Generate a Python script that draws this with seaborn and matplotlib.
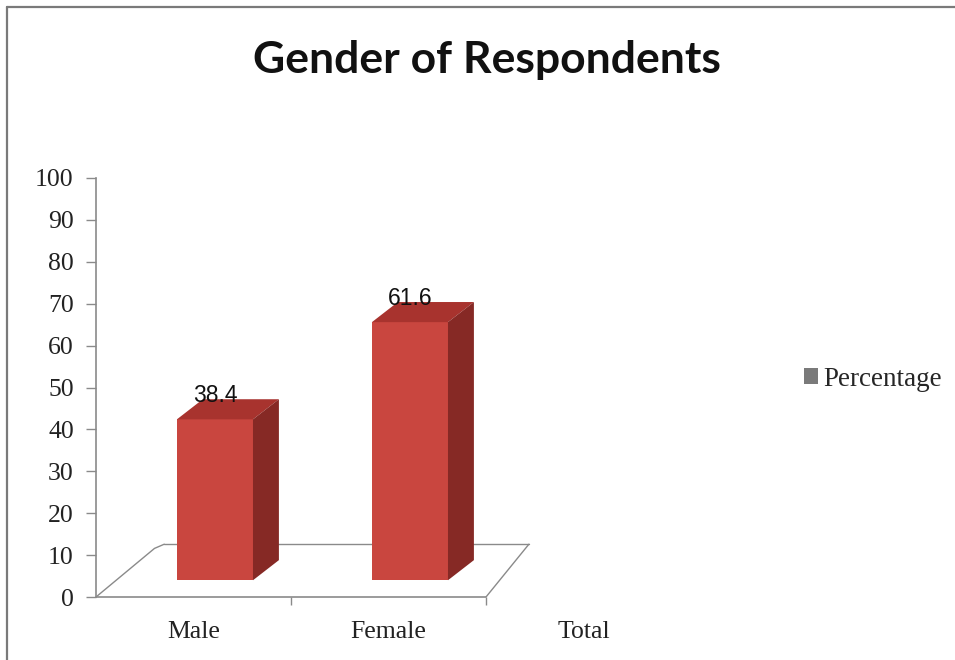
import matplotlib
matplotlib.use("Agg")
import matplotlib.pyplot as plt
from matplotlib.patches import Polygon, Patch
from matplotlib.lines import Line2D
import seaborn as sns
import pandas as pd
import numpy as np

# ---- data ----
categories = ["Male", "Female", "Total"]
bar_categories = ["Male", "Female"]
percentages = [38.4, 61.6]
yticks = [0, 10, 20, 30, 40, 50, 60, 70, 80, 90, 100]
title = "Gender of Respondents"
series_name = "Percentage"

df = pd.DataFrame({"Category": bar_categories, "Percentage": percentages})

sns.set_style("white")
plt.rcParams["font.family"] = ["Liberation Serif", "DejaVu Serif"]

W, H = 955, 660
fig = plt.figure(figsize=(W / 100, H / 100), dpi=100)
fig.patch.set_facecolor("white")

ax = fig.add_axes([96 / W, (H - 597) / H, 585 / W, (597 - 178) / H])
ax.set_facecolor("none")

front_c = "#C9463F"
side_c = "#862925"
top_c = "#A8332E"
grid_c = "#8a8a8a"

sns.barplot(data=df, x="Category", y="Percentage", order=categories,
            width=0.39, color=front_c, saturation=1, ax=ax, errorbar=None,
            linewidth=0)

ax.set_xlim(-0.5, 2.5)
ax.set_ylim(0, 100)

# pseudo-3D geometry (style)
shift_x = 0.11   # front faces shifted right (perspective)
base = 4.0       # front faces start slightly above the floor front edge
dx, dy = 0.133, 4.8  # depth offsets

# floor
floor_back = 12.6
ax.plot([-0.5, 1.5], [0, 0], color=grid_c, lw=1.2, zorder=1, clip_on=False)
ax.plot([-0.5, -0.2, -0.15], [0, floor_back - 1.0, floor_back], color=grid_c, lw=1.0, zorder=1)
ax.plot([-0.15, 1.72], [floor_back, floor_back], color=grid_c, lw=1.0, zorder=1)
ax.plot([1.5, 1.72], [0, floor_back], color=grid_c, lw=1.0, zorder=1)

for p in list(ax.patches):
    h = p.get_height()
    if not np.isfinite(h) or h == 0:
        continue
    x0 = p.get_x() + shift_x
    w = p.get_width()
    p.set_x(x0)
    p.set_y(base)
    p.set_zorder(3)
    top = base + h
    x1 = x0 + w
    ax.add_patch(Polygon([[x0, top], [x0 + dx, top + dy], [x1 + dx, top + dy], [x1, top]],
                         closed=True, facecolor=top_c, edgecolor="none", zorder=3))
    ax.add_patch(Polygon([[x1, base], [x1, top], [x1 + dx, top + dy], [x1 + dx, base + dy]],
                         closed=True, facecolor=side_c, edgecolor="none", zorder=3))
    ax.text(x0 + w / 2, top + dy + 0.8, f"{h:.1f}", ha="center", va="center",
            fontsize=16.5, family=["Liberation Sans", "DejaVu Sans"], color="#111111", zorder=5)

# axes styling
for s in ["top", "right", "bottom"]:
    ax.spines[s].set_visible(False)
ax.spines["left"].set_color(grid_c)
ax.spines["left"].set_linewidth(1.2)
ax.set_yticks(yticks)
ax.set_yticklabels([str(t) for t in yticks])
ax.tick_params(axis="y", direction="out", length=7, width=1, color=grid_c,
               pad=9, labelsize=18.5, labelcolor="#222222", left=True)
ax.set_xticks(range(len(categories)))
ax.set_xticklabels(categories)
ax.tick_params(axis="x", length=0, pad=17, labelsize=18.5, labelcolor="#222222")
ax.set_xticks([0.5, 1.5], minor=True)
ax.tick_params(axis="x", which="minor", direction="out", length=6, width=1,
               color=grid_c, bottom=True)
ax.set_xlabel("")
ax.set_ylabel("")

# title
fig.text(487 / W, 1 - 60 / H, title, ha="center", va="center", fontsize=32,
         fontweight="bold", family=["Lato", "DejaVu Sans"], color="#111111")

# legend
fig.legend(handles=[Patch(facecolor="#7a7a7a", edgecolor="none", label=series_name)],
           loc="center left", bbox_to_anchor=(804 / W, 1 - 379 / H), frameon=False,
           fontsize=19.5, handlelength=0.5, handleheight=0.5, handletextpad=0.2,
           borderpad=0, borderaxespad=0)

# outer frame (top and left)
fig.add_artist(Line2D([7 / W, 1], [1 - 7 / H, 1 - 7 / H], transform=fig.transFigure,
                      color="#7a7a7a", lw=1.6))
fig.add_artist(Line2D([7 / W, 7 / W], [0, 1 - 7 / H], transform=fig.transFigure,
                      color="#7a7a7a", lw=1.6))

fig.savefig("out.png", dpi=100, facecolor="white")
